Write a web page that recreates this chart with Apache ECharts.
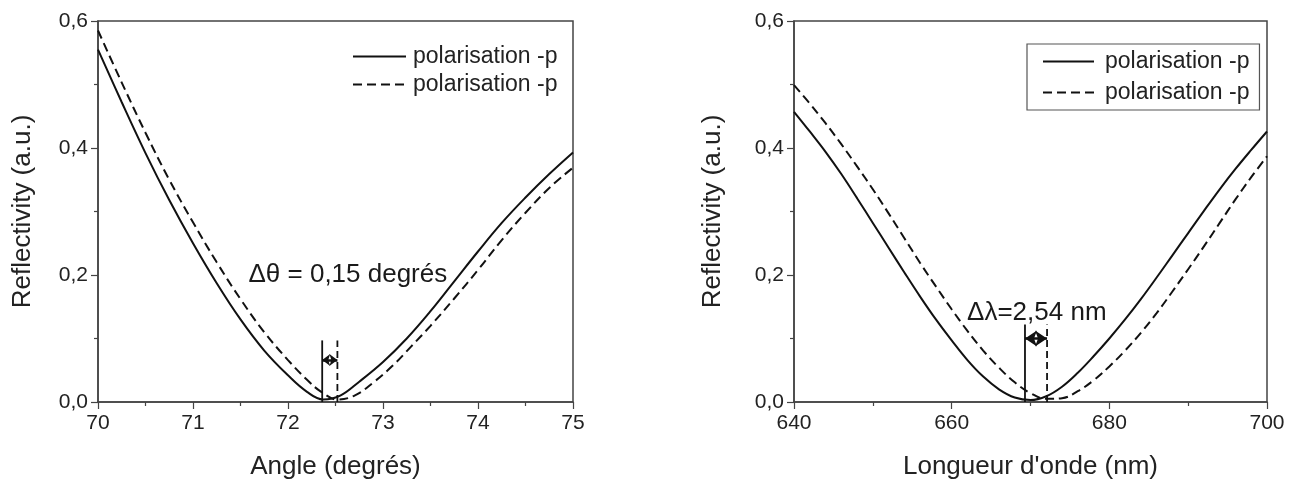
<!doctype html>
<html>
<head>
  <meta charset="utf-8">
  <script src="https://cdn.jsdelivr.net/npm/echarts@6/dist/echarts.min.js"></script>
  <style>
    html, body { margin: 0; padding: 0; background: #fff; }
    #chart { width: 1296px; height: 485px; }
  </style>
</head>
<body>
  <div id="chart"></div>
  <script type="text/javascript">
    // left panel: reflectivity vs angle
    var angleSolidX = [70.0, 70.25, 70.5, 70.75, 71.0, 71.25, 71.5, 71.75, 72.0, 72.2, 72.37, 72.55, 72.75, 73.0, 73.25, 73.5, 73.75, 74.0, 74.25, 74.5, 74.75, 75.0];
    var angleSolidR = [0.555, 0.472, 0.392, 0.318, 0.250, 0.187, 0.130, 0.081, 0.042, 0.016, 0.004, 0.010, 0.032, 0.063, 0.100, 0.143, 0.190, 0.237, 0.282, 0.322, 0.359, 0.393];
    var angleDashedX = [70.0, 70.25, 70.5, 70.75, 71.0, 71.25, 71.5, 71.75, 72.0, 72.2, 72.35, 72.52, 72.7, 72.9, 73.1, 73.3, 73.5, 73.75, 74.0, 74.25, 74.5, 74.75, 75.0];
    var angleDashedR = [0.585, 0.503, 0.424, 0.350, 0.283, 0.220, 0.162, 0.110, 0.066, 0.035, 0.016, 0.004, 0.010, 0.031, 0.057, 0.088, 0.120, 0.163, 0.208, 0.255, 0.298, 0.337, 0.369];

    // right panel: reflectivity vs wavelength
    var waveSolidX = [640, 642, 644, 646, 648, 650, 652, 654, 656, 658, 660, 662, 664, 666, 668, 670, 672, 674, 676, 678, 680, 682, 684, 686, 688, 690, 692, 694, 696, 698, 700];
    var waveSolidR = [0.457, 0.426, 0.394, 0.359, 0.321, 0.282, 0.243, 0.204, 0.166, 0.130, 0.097, 0.066, 0.040, 0.020, 0.007, 0.003, 0.009, 0.024, 0.046, 0.072, 0.100, 0.130, 0.162, 0.196, 0.231, 0.266, 0.301, 0.335, 0.367, 0.397, 0.426];
    var waveDashedX = [640, 642, 644, 646, 648, 650, 652, 654, 656, 658, 660, 662, 664, 666, 668, 670, 672, 674, 676, 678, 680, 682, 684, 686, 688, 690, 692, 694, 696, 698, 700];
    var waveDashedR = [0.499, 0.470, 0.439, 0.406, 0.371, 0.335, 0.297, 0.258, 0.219, 0.182, 0.146, 0.112, 0.081, 0.054, 0.031, 0.014, 0.005, 0.006, 0.017, 0.034, 0.056, 0.081, 0.109, 0.140, 0.174, 0.209, 0.245, 0.282, 0.319, 0.354, 0.387];

    // markers for the shift (x solid, x dashed, line top, arrow level)
    var angleShift = [72.36, 72.52, 0.097, 0.066];
    var waveShift = [669.3, 672.1, 0.122, 0.1];
    var angleNote = [72.63, 0.201, '\u0394\u03b8 = 0,15 degr\u00e9s'];
    var waveNote = [670.8, 0.141, '\u0394\u03bb=2,54 nm'];

    var legendText = 'polarisation -p';
    var yTicks = ['0,0', '0,2', '0,4', '0,6'];

    var font = "'Liberation Sans', Arial, sans-serif";
    var ink = '#111';
    var axisColor = '#444';

    function zip(xs, ys) {
      var out = [];
      for (var i = 0; i < xs.length; i++) out.push([xs[i], ys[i]]);
      return out;
    }

    function makeX(idx, min, max, step, name) {
      return {
        type: 'value', gridIndex: idx, min: min, max: max, interval: step,
        name: name, nameLocation: 'middle', nameGap: 52,
        nameTextStyle: { fontFamily: font, fontSize: 26, color: '#222' },
        axisLine: { show: true, lineStyle: { color: axisColor, width: 1.5 } },
        axisTick: { show: true, inside: false, length: 7, lineStyle: { color: axisColor, width: 1.2 } },
        minorTick: { show: true, splitNumber: 2, length: 4, lineStyle: { color: axisColor, width: 1.2 } },
        splitLine: { show: false },
        axisLabel: { margin: 11, fontFamily: font, fontSize: 21, color: '#222' }
      };
    }

    function makeY(idx, gap) {
      return {
        type: 'value', gridIndex: idx, min: 0, max: 0.6, interval: 0.2,
        name: 'Reflectivity (a.u.)', nameLocation: 'middle', nameGap: gap,
        nameTextStyle: { fontFamily: font, fontSize: 26, color: '#222' },
        axisLine: { show: true, lineStyle: { color: axisColor, width: 1.5 } },
        axisTick: { show: true, inside: false, length: 7, lineStyle: { color: axisColor, width: 1.2 } },
        minorTick: { show: true, splitNumber: 2, length: 4, lineStyle: { color: axisColor, width: 1.2 } },
        splitLine: { show: false },
        axisLabel: {
          margin: 10, fontFamily: font, fontSize: 21, color: '#222',
          formatter: function (v) { return yTicks[Math.round(v / 0.2)]; }
        }
      };
    }

    function curve(name, idx, data, dashed) {
      return {
        name: name, type: 'line', xAxisIndex: idx, yAxisIndex: idx,
        data: data, showSymbol: false, symbol: 'none', smooth: 0.4,
        lineStyle: { color: ink, width: 2, type: dashed ? [9, 5] : 'solid' },
        itemStyle: { color: ink },
        z: 3
      };
    }

    function stick(idx, x, top, dashed) {
      return {
        type: 'line', xAxisIndex: idx, yAxisIndex: idx, symbol: 'none',
        data: [[x, 0], [x, top]],
        lineStyle: { color: ink, width: 1.8, type: dashed ? [7, 4] : 'solid' },
        z: 4
      };
    }

    function shiftArrow(idx, s, size) {
      return {
        type: 'line', xAxisIndex: idx, yAxisIndex: idx, symbol: 'none', data: [],
        itemStyle: { color: ink },
        markLine: {
          silent: true, animation: false,
          symbol: ['arrow', 'arrow'], symbolSize: size,
          label: { show: false },
          itemStyle: { color: ink },
          lineStyle: { color: ink, width: 2.5, type: 'solid' },
          data: [[{ coord: [s[0], s[3]] }, { coord: [s[1], s[3]] }]]
        }
      };
    }

    function note(idx, n) {
      return {
        type: 'scatter', xAxisIndex: idx, yAxisIndex: idx, symbolSize: 0,
        itemStyle: { color: ink },
        data: [[n[0], n[1]]],
        label: {
          show: true, position: 'inside', formatter: n[2],
          fontFamily: font, fontSize: 26, color: '#1a1a1a',
          textBorderWidth: 0, textShadowBlur: 0, opacity: 1
        },
        z: 5
      };
    }

    var hideSymbol = { color: 'rgba(0,0,0,0)', borderColor: 'rgba(0,0,0,0)', borderWidth: 0 };

    var chart = echarts.init(document.getElementById('chart'));
    var option = {
      animation: false,
      backgroundColor: '#fff',
      grid: [
        { left: 98, top: 21, width: 475, height: 382, show: true, borderColor: axisColor, borderWidth: 1.5 },
        { left: 794, top: 21, width: 473, height: 382, show: true, borderColor: axisColor, borderWidth: 1.5 }
      ],
      xAxis: [
        makeX(0, 70, 75, 1, 'Angle (degr\u00e9s)'),
        makeX(1, 640, 700, 20, "Longueur d'onde (nm)")
      ],
      yAxis: [makeY(0, 62), makeY(1, 68)],
      legend: [
        {
          data: ['a1', 'a2'], orient: 'vertical', left: 352, top: 45,
          itemWidth: 53, itemHeight: 14, itemGap: 5, padding: 0,
          itemStyle: hideSymbol,
          formatter: function () { return legendText; },
          textStyle: { fontFamily: font, fontSize: 23, color: '#222', padding: [0, 0, 0, 2] }
        },
        {
          data: ['w1', 'w2'], orient: 'vertical', left: 1027, top: 44,
          itemWidth: 51, itemHeight: 14, itemGap: 8, padding: [6, 10, 6, 15],
          borderColor: '#555', borderWidth: 1.2,
          itemStyle: hideSymbol,
          formatter: function () { return legendText; },
          textStyle: { fontFamily: font, fontSize: 23, color: '#222', padding: [0, 0, 0, 6] }
        }
      ],
      series: [
        curve('a1', 0, zip(angleSolidX, angleSolidR), false),
        curve('a2', 0, zip(angleDashedX, angleDashedR), true),
        curve('w1', 1, zip(waveSolidX, waveSolidR), false),
        curve('w2', 1, zip(waveDashedX, waveDashedR), true),
        stick(0, angleShift[0], angleShift[2], false),
        stick(0, angleShift[1], angleShift[2], true),
        stick(1, waveShift[0], waveShift[2], false),
        stick(1, waveShift[1], waveShift[2], true),
        shiftArrow(0, angleShift, [9, 8]),
        shiftArrow(1, waveShift, [12, 12]),
        note(0, angleNote),
        note(1, waveNote)
      ]
    };
    chart.setOption(option);
  </script>
</body>
</html>
